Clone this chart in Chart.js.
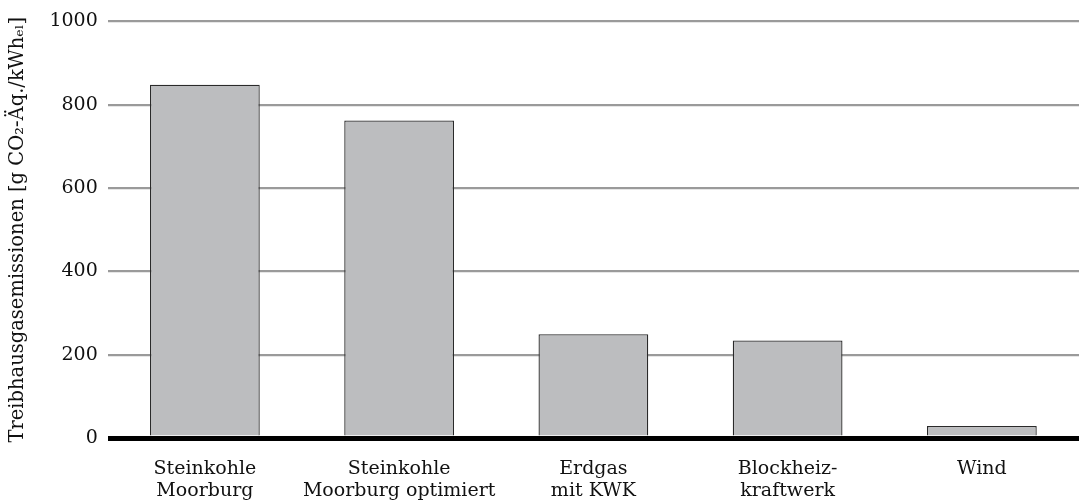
<!DOCTYPE html>
<html>
<head>
<meta charset="utf-8">
<script src="https://cdn.jsdelivr.net/npm/chart.js@4"></script>
<style>
  html, body { margin: 0; padding: 0; background: #fff; }
  #wrap { width: 1079px; height: 504px; }
</style>
</head>
<body>
<div id="wrap"><canvas id="chart" width="1079" height="504"></canvas></div>
<script>
const categories = [
    ['Steinkohle', 'Moorburg'],
    ['Steinkohle', 'Moorburg optimiert'],
    ['Erdgas', 'mit KWK'],
    ['Blockheiz-', 'kraftwerk'],
    ['Wind']
];
const emissions = [848, 762, 249, 234, 29];
const yTicks = [0, 200, 400, 600, 800, 1000];

const serif = 'DejaVu Serif';

new Chart(document.getElementById('chart').getContext('2d'), {
    type: 'bar',
    data: {
        labels: categories,
        datasets: [{
            data: emissions,
            backgroundColor: '#bcbdbf',
            borderColor: '#2a2a2a',
            borderWidth: 1.3,
            borderSkipped: 'bottom',
            barPercentage: 1,
            categoryPercentage: 0.565
        }]
    },
    options: {
        responsive: false,
        animation: false,
        layout: { padding: { top: 8, right: 0, left: 6, bottom: 0 } },
        plugins: { legend: { display: false }, tooltip: { enabled: false } },
        scales: {
            x: {
                grid: { display: false },
                border: { display: false },
                afterFit: scale => { scale.height = 66; },
                ticks: {
                    color: '#111',
                    font: { family: serif, size: 19, lineHeight: 1.15 },
                    padding: 12,
                    maxRotation: 0,
                    autoSkip: false
                }
            },
            y: {
                min: 0,
                max: 1000,
                afterBuildTicks: axis => { axis.ticks = yTicks.map(v => ({ value: v })); },
                border: { display: false },
                grid: {
                    drawTicks: false,
                    color: ctx => ctx.tick && ctx.tick.value === 0 ? '#000' : '#9a9a9a',
                    lineWidth: ctx => ctx.tick && ctx.tick.value === 0 ? 5 : 2.2
                },
                ticks: {
                    color: '#111',
                    font: { family: serif, size: 19 },
                    padding: 10,
                    callback: v => String(v)
                },
                title: {
                    display: true,
                    text: 'Treibhausgasemissionen [g CO₂-Äq./kWhₑₗ]',
                    color: '#111',
                    font: { family: serif, size: 19.5 },
                    padding: { top: 0, bottom: 10 }
                }
            }
        }
    }
});
</script>
</body>
</html>
